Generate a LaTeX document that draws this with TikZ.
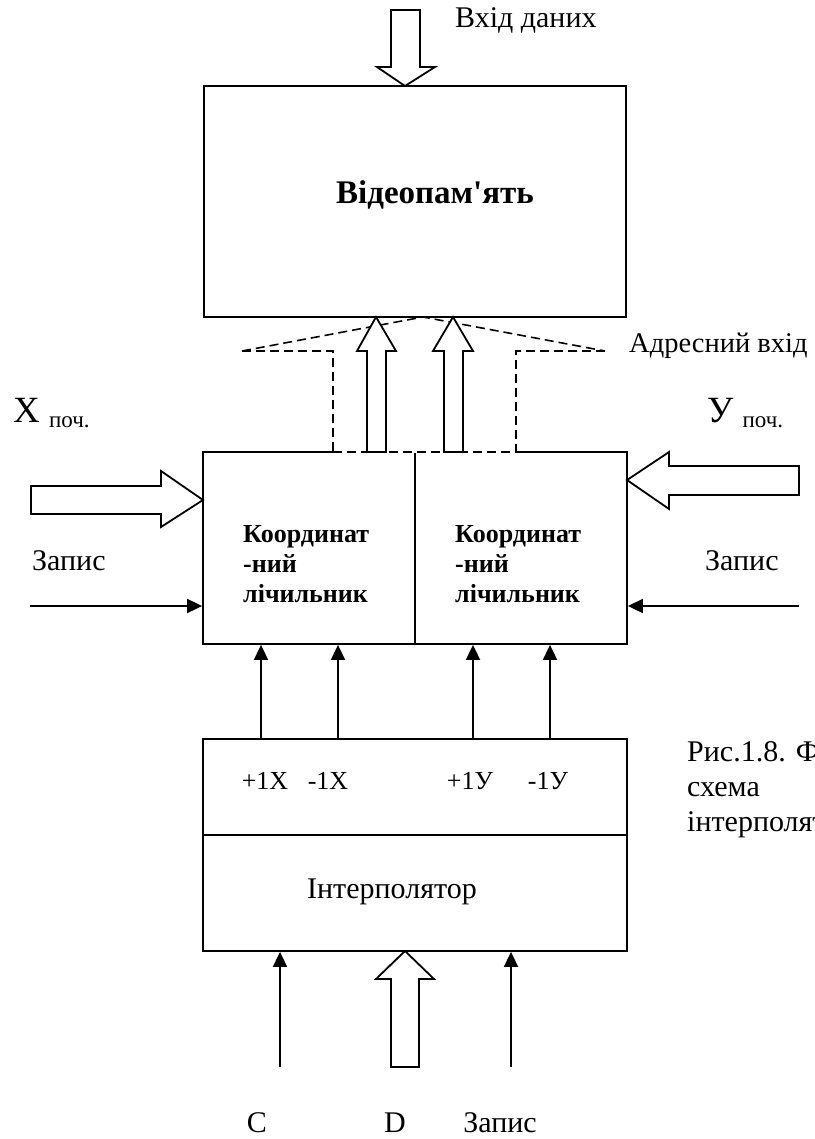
\documentclass[tikz,border=0pt]{standalone}
\usepackage{fontspec}
\setmainfont{Liberation Serif}
\usetikzlibrary{arrows.meta}

\newcommand{\lblfont}{\fontsize{30}{35}\selectfont}
\newcommand{\addrfont}{\fontsize{28.5}{33}\selectfont}
\newcommand{\smlfont}{\fontsize{26}{30}\selectfont}
\newcommand{\bigfont}{\fontsize{37}{40}\selectfont}
\newcommand{\subfont}{\fontsize{23}{26}\selectfont}
\newcommand{\cntfont}{\fontsize{26}{30}\selectfont\bfseries}
\newcommand{\memfont}{\fontsize{33}{38}\selectfont\bfseries}

\begin{document}
\begin{tikzpicture}[x=1pt,y=-1pt,
		box/.style={draw,line width=1.8pt,inner sep=0pt},
		fat/.style={draw,fill=white,line width=1.8pt,line join=miter},
		sig/.style={line width=1.8pt,-{Triangle[length=15pt,width=14pt]}},
		frame/.style={line width=1.6pt,dash pattern=on 9pt off 5pt},
		lbl/.style={inner sep=0pt,font=\lblfont}]
		\useasboundingbox (0,0) rectangle (814,1139);
		\clip (0,0) rectangle (814,1139);
		% blocks
		\node[box,minimum width=422,minimum height=231] (mem) at (415,201.5) {};
		\node[box,minimum width=212,minimum height=192] (cntX) at (309,548) {};
		\node[box,minimum width=212,minimum height=192] (cntY) at (521,548) {};
		\node[box,minimum width=424,minimum height=96] (interpA) at (415,787) {};
		\node[box,minimum width=424,minimum height=116] (interpB) at (415,893) {};
		\node[inner sep=0pt,font=\memfont] (memlbl) at (435,195) {Відеопам\textquotesingle ять};
		\node[inner sep=0pt,font=\cntfont,align=left,anchor=north west] (cntXlbl) at (243,525) {Координат\\-ний\\лічильник};
		\node[inner sep=0pt,font=\cntfont,align=left,anchor=north west] (cntYlbl) at (455,525) {Координат\\-ний\\лічильник};
		\node[lbl,anchor=base] (interplbl) at (392,898) {Інтерполятор};
		% address frame
		\draw[frame] (242,351) -- (333,351) -- (333,452);
		\draw[frame] (605,351) -- (516,351) -- (516,452);
		\draw[frame] (242,351) -- (423,317) -- (605,351);
		\draw[white,line width=2.4pt] (333,452) -- (516,452);
		\draw[frame] (333,452) -- (516,452);
		% wide arrows
		\draw[fat] (391,10) -- (420,10) -- (420,67) -- (435,67) -- (405,86) -- (377,67) -- (391,67) -- cycle;
		\draw[fat] (367,452) -- (367,351) -- (357,351) -- (376,317) -- (396,351) -- (386,351) -- (386,452) -- cycle;
		\draw[fat] (444,452) -- (444,351) -- (433,351) -- (453,317) -- (473,351) -- (463,351) -- (463,452) -- cycle;
		\draw[fat] (31,486) -- (161,486) -- (161,471) -- (203,500) -- (161,527) -- (161,514) -- (31,514) -- cycle;
		\draw[fat] (799,466) -- (669,466) -- (669,452) -- (627,480) -- (669,509) -- (669,495) -- (799,495) -- cycle;
		\draw[fat] (391,1067) -- (391,979) -- (376,979) -- (405,951) -- (434,979) -- (419,979) -- (419,1067) -- cycle;
		% signal lines
		\draw[sig] (30,606) -- (cntX.west |- 0,606);
		\draw[sig] (799,606) -- (cntY.east |- 0,606);
		\foreach \x in {261,338,473,550}
			\draw[sig] (\x,0 |- interpA.north) -- (\x,0 |- cntX.south);
		\foreach \x in {280,511}
			\draw[sig] (\x,1067) -- (\x,0 |- interpB.south);
		% labels
		\node[lbl,anchor=base west] (datalbl) at (455,28) {Вхід даних};
		\node[inner sep=0pt,font=\addrfont,anchor=base west] (addrlbl) at (629,352) {Адресний вхід};
		\node[inner sep=0pt,font=\bigfont,anchor=base west] (xlbl) at (13,422) {X \raisebox{-5pt}{\subfont поч.}};
		\node[inner sep=0pt,font=\bigfont,anchor=base west] (ylbl) at (707,422) {У \raisebox{-5pt}{\subfont поч.}};
		\node[lbl,anchor=base west] (wrXlbl) at (32,570) {Запис};
		\node[lbl,anchor=base west] (wrYlbl) at (705,570) {Запис};
		\node[inner sep=0pt,font=\smlfont,anchor=base] (pxlbl) at (265,789) {+1X};
		\node[inner sep=0pt,font=\smlfont,anchor=base] (mxlbl) at (328,789) {-1X};
		\node[inner sep=0pt,font=\smlfont,anchor=base] (pylbl) at (470,789) {+1У};
		\node[inner sep=0pt,font=\smlfont,anchor=base] (mylbl) at (548,789) {-1У};
		\node[lbl,anchor=base] (clklbl) at (257,1132) {C};
		\node[lbl,anchor=base] (dlbl) at (395,1132) {D};
		\node[lbl,anchor=base] (wrlbl) at (500,1132) {Запис};
		\node[lbl,anchor=north west,align=left,font=\lblfont] (caption) at (687,741) {Рис.1.8. Функціональна\\схема\\інтерполятора};
	\end{tikzpicture}
\end{document}
